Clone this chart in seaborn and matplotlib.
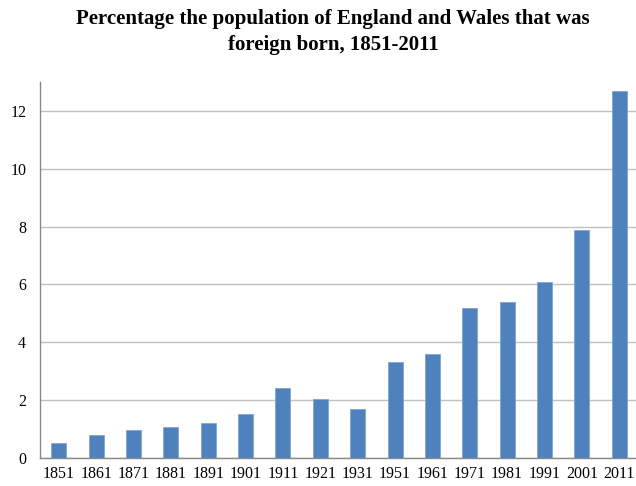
import numpy as np
import pandas as pd
import matplotlib
matplotlib.use("Agg")
import matplotlib.pyplot as plt
import seaborn as sns

years = ["1851", "1861", "1871", "1881", "1891", "1901", "1911", "1921",
         "1931", "1951", "1961", "1971", "1981", "1991", "2001", "2011"]
percent_foreign_born = [0.5, 0.8, 0.95, 1.08, 1.22, 1.5, 2.4, 2.02,
                        1.7, 3.3, 3.6, 5.2, 5.4, 6.1, 7.9, 12.7]

title = "Percentage the population of England and Wales that was\nforeign born, 1851-2011"

sns.set_style("white")
plt.rcParams['font.family'] = ['Liberation Serif', 'DejaVu Serif']
plt.rcParams['text.color'] = 'black'
plt.rcParams['xtick.labelcolor'] = 'black'
plt.rcParams['ytick.labelcolor'] = 'black'

df = pd.DataFrame({"year": years, "pct": percent_foreign_born})

fig = plt.figure(figsize=(6.36, 4.86), dpi=100)
ax = fig.add_axes([0.063, 0.058, 0.94, 0.773])

sns.barplot(data=df, x="year", y="pct", color="#4F81BD", width=0.4,
            saturation=1, edgecolor="#7FA3D1", linewidth=0.6, ax=ax)

ax.set_xlim(-0.5, len(years) - 0.5)
ax.set_ylim(0, 13)
ax.set_yticks(np.arange(0, 13, 2))
ax.yaxis.grid(True, color="#C0C0C0", linewidth=1)
ax.set_axisbelow(True)

# ticks sit between the categories, like the spreadsheet original
ax.set_xticks(np.arange(-0.5, len(years)), minor=True)
ax.tick_params(axis="x", which="major", length=0, pad=6, labelsize=11.5)
ax.tick_params(axis="x", which="minor", length=4, color="#888888", direction="out")
ax.tick_params(axis="y", length=4, color="#888888", direction="out", pad=6, labelsize=11.5)

ax.set_xlabel("")
ax.set_ylabel("")
for side in ["top", "right"]:
    ax.spines[side].set_visible(False)
for side in ["left", "bottom"]:
    ax.spines[side].set_color("#888888")
    ax.spines[side].set_linewidth(1)

fig.text(0.524, 0.982, title, ha="center", va="top", fontsize=15,
         fontweight="bold", linespacing=1.45, color="black")

fig.savefig("out.png", dpi=100)
